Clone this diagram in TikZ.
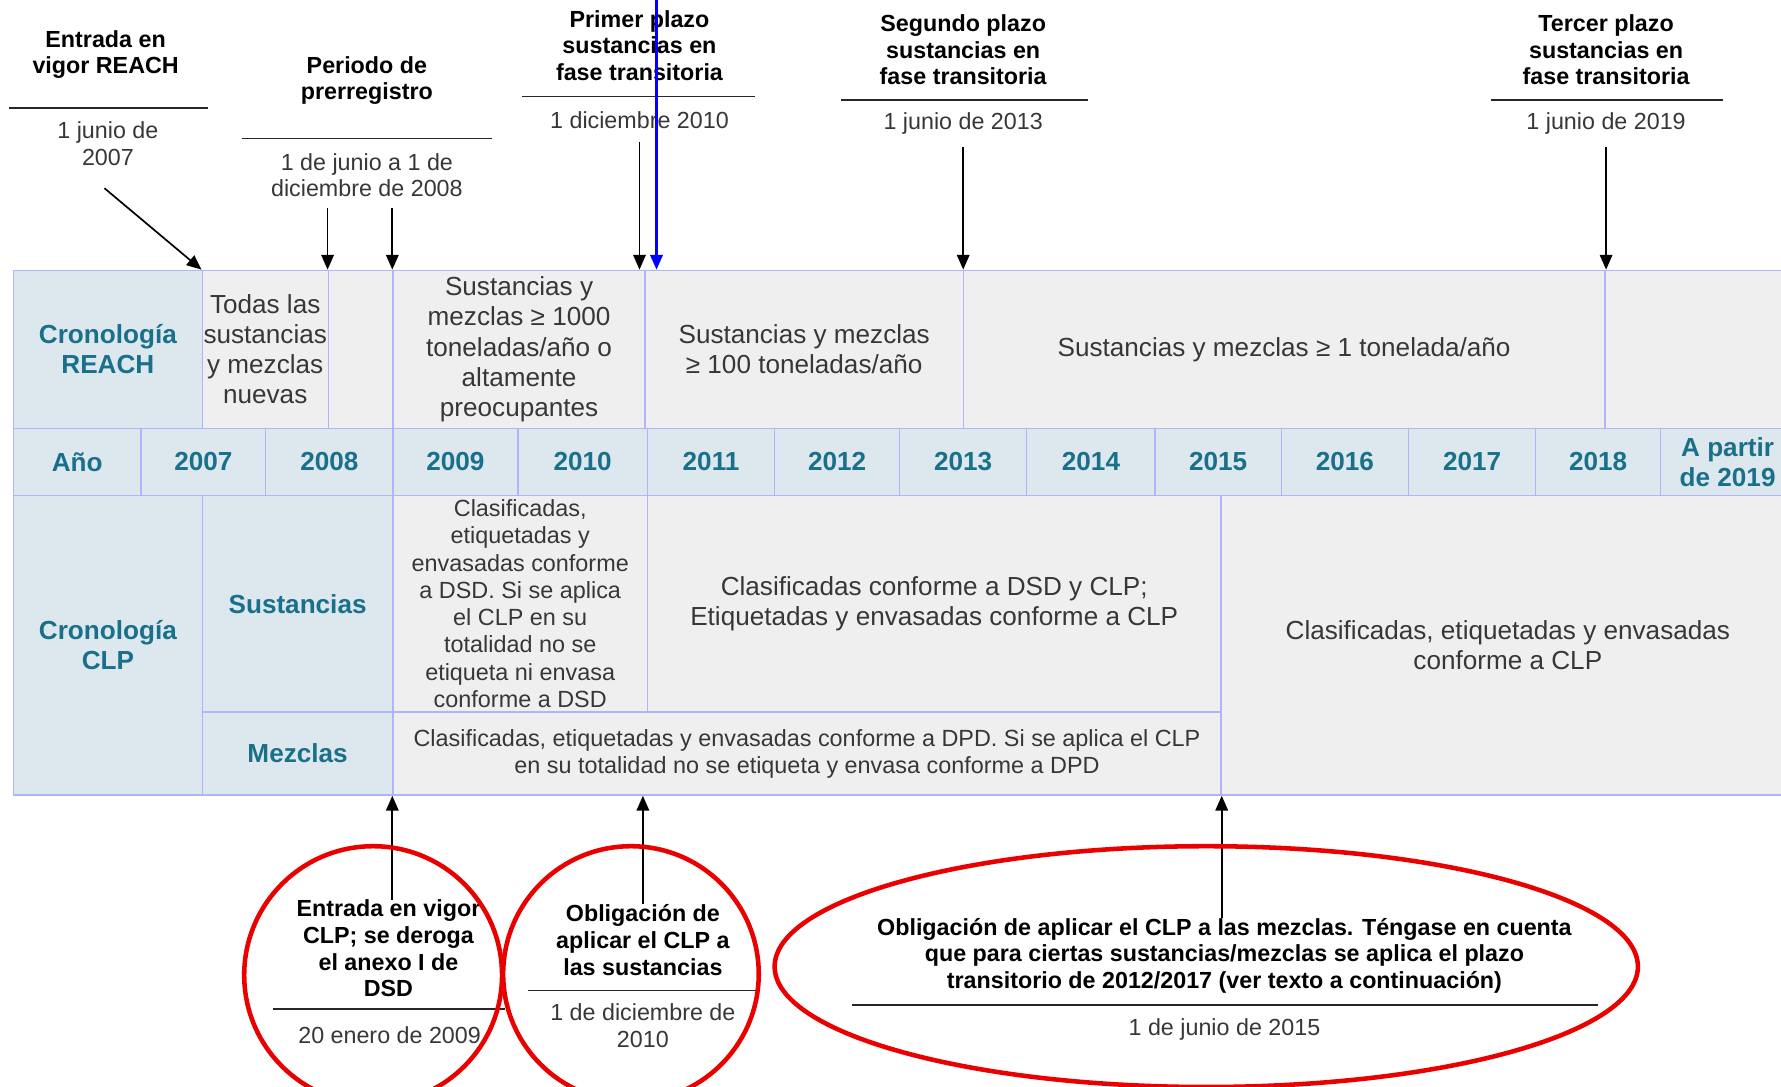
\documentclass[tikz,border=0pt]{standalone}
\usepackage{fontspec}
\setmainfont{Liberation Sans}
\usetikzlibrary{arrows.meta,calc,shapes.geometric}
\definecolor{bordc}{RGB}{176,180,250}
\definecolor{lblue}{RGB}{220,232,237}
\definecolor{lteal}{RGB}{26,112,138}
\definecolor{cellg}{RGB}{239,239,239}
\definecolor{txtg}{RGB}{55,55,55}
\definecolor{redc}{RGB}{235,0,0}
\begin{document}
\begin{tikzpicture}[x=1pt,y=-1pt,
  sz/.style 2 args={minimum width=#1pt,minimum height=#2pt},
  cell/.style={draw=bordc,line width=1.2pt,inner sep=0pt,align=center},
  lab/.style={cell,fill=lblue,text=lteal,font=\bfseries\fontsize{23}{26.5}\selectfont},
  gbig/.style={cell,fill=cellg,text=txtg,font=\fontsize{23}{26.5}\selectfont},
  gsmall/.style={cell,fill=cellg,text=txtg,font=\fontsize{20.6}{24}\selectfont},
  ttl/.style={inner sep=0pt,align=center,font=\bfseries\fontsize{20.5}{23.5}\selectfont},
  dte/.style={inner sep=0pt,align=center,text=txtg,font=\fontsize{20.5}{23}\selectfont},
  rule/.style={line width=1.6pt,black!85},
  arr/.style={line width=1.5pt,-{Triangle[length=13pt,width=11pt]}},
  ring/.style={draw=redc,line width=4pt,inner sep=0pt}]
\clip (0,0) rectangle (1568,957);
\fill[white] (0,0) rectangle (1568,957);
% Row 1: REACH
\node[lab,sz={166}{139}] (reachL) at (95,307.5) {Cronología\\REACH};
\node[gbig,sz={111}{139}] (r1) at (233.5,307.5) {Todas las\\sustancias\\y mezclas\\nuevas};
\node[gbig,sz={57}{139}] (r2) at (317.5,307.5) {};
\node[gbig,sz={222}{139}] (r3) at (457,307.5) {Sustancias y\\mezclas ≥ 1000\\toneladas/año o\\altamente\\preocupantes};
\node[gbig,sz={280}{139}] (r4) at (708,307.5) {Sustancias y mezclas\\≥ 100 toneladas/año};
\node[gbig,sz={565}{139}] (r5) at (1130.5,307.5) {Sustancias y mezclas ≥ 1 tonelada/año};
\node[gbig,sz={167}{139}] (r6) at (1496.5,307.5) {};
% Row 2: years
\foreach \nm/\cx/\w/\t in {ano/68/112/Año, y07/179/110/2007, y08/290/112/2008,
  y09/401/110/2009, y10/513/114/2010, y11/626/112/2011, y12/737/110/2012,
  y13/848/112/2013, y14/960.5/113/2014, y15/1072.5/111/2015, y16/1184/112/2016,
  y17/1296/112/2017, y18/1407/110/2018}
  \node[lab,sz={\w}{59}] (\nm) at (\cx,406.5) {\t};
\node[lab,sz={118}{59}] (y19) at (1521,406.5) {A partir\\de 2019};
% Row 3: CLP
\node[lab,sz={166}{264}] (clpL) at (95,568) {Cronología\\CLP};
\node[lab,sz={168}{191}] (sust) at (262,531.5) {Sustancias};
\node[lab,sz={168}{73}] (mezc) at (262,663.5) {Mezclas};
\node[gsmall,sz={224}{191}] (c1) at (458,531.5) {Clasificadas,\\etiquetadas y\\envasadas conforme\\a DSD. Si se aplica\\el CLP en su\\totalidad no se\\etiqueta ni envasa\\conforme a DSD};
\node[gbig,sz={505}{191}] (c2) at (822.5,531.5) {Clasificadas conforme a DSD y CLP;\\Etiquetadas y envasadas conforme a CLP};
\node[gsmall,sz={729}{73}] (c3) at (710.5,663.5) {Clasificadas, etiquetadas y envasadas conforme a DPD. Si se aplica el CLP\\en su totalidad no se etiqueta y envasa conforme a DPD};
\node[gbig,sz={505}{264}] (c4) at (1327.5,568) {Clasificadas, etiquetadas y envasadas\\conforme a CLP};
% Top annotations
\node[ttl] (t1) at (93,48) {Entrada en\\vigor REACH};
\draw[rule] (8,95) -- (183,95);
\node[dte] (d1) at (95,126.5) {1 junio de\\2007};
\node[ttl] (t2) at (323,71) {Periodo de\\prerregistro};
\draw[rule] (213,122) -- (433,122);
\node[dte] (d2) at (323,154) {1 de junio a 1 de\\diciembre de 2008};
\node[ttl] (t3) at (563,40) {Primer plazo\\sustancias en\\fase transitoria};
\draw[rule] (460,85) -- (665,85);
\node[dte] (d3) at (563,106) {1 diciembre 2010};
\node[ttl] (t4) at (848,44) {Segundo plazo\\sustancias en\\fase transitoria};
\draw[rule] (740,88) -- (958,88);
\node[dte] (d4) at (848,109) {1 junio de 2013};
\node[ttl] (t5) at (1414,44) {Tercer plazo\\sustancias en\\fase transitoria};
\draw[rule] (1313,88) -- (1517,88);
\node[dte] (d5) at (1414,109) {1 junio de 2019};
% top arrows
\draw[arr] ($(d1.south)+(-3,20)$) -- (r1.north west);
\draw[arr] ($(d2.south -| r2.north west)+(0,10)$) -- (r2.north west);
\draw[arr] ($(d2.south -| r3.north west)+(0,10)$) -- (r3.north west);
\draw[arr] ($(d3.south)+(0,11)$) -- (d3.south |- r4.north);
\draw[arr] ($(d4.south)+(0,11)$) -- (d4.south |- r5.north);
\draw[arr] ($(d5.south)+(0,11)$) -- (d5.south |- r6.north);
\coordinate (btop) at (578,-2);
\draw[arr,blue,line width=2pt] (btop) -- (btop |- r4.north);
% Bottom annotations
\node[ttl] (b1) at (342,835) {Entrada en vigor\\CLP; se deroga\\el anexo I de\\DSD};
\draw[rule] (240,888) -- (445,888);
\node[dte] (bd1) at (343,911) {20 enero de 2009};
\node[ttl] (b2) at (566,827.5) {Obligación de\\aplicar el CLP a\\las sustancias};
\draw[rule] (465,872) -- (667,872);
\node[dte] (bd2) at (566,903) {1 de diciembre de\\2010};
\node[ttl] (b3) at (1078,841.5) {Obligación de aplicar el CLP a las mezclas. Téngase en cuenta\\que para ciertas sustancias/mezclas se aplica el plazo\\transitorio de 2012/2017 (ver texto a continuación)};
\draw[rule] (750,885) -- (1407,885);
\node[dte] (bd3) at (1078,906) {1 de junio de 2015};
\draw[arr] (b1.north -| c3.south west) -- (c3.south west);
\draw[arr] (b2.north) -- (b2.north |- c3.south);
\draw[arr] (b3.north -| c3.south east) -- (c3.south east);
% red rings
\node[ring,circle,minimum size=227pt] (o1) at (328.5,858.5) {};
\node[ring,circle,minimum size=225pt] (o2) at (555.5,857.5) {};
\node[ring,ellipse,minimum width=760pt,minimum height=212pt] (o3) at (1062,851) {};
\end{tikzpicture}
\end{document}
